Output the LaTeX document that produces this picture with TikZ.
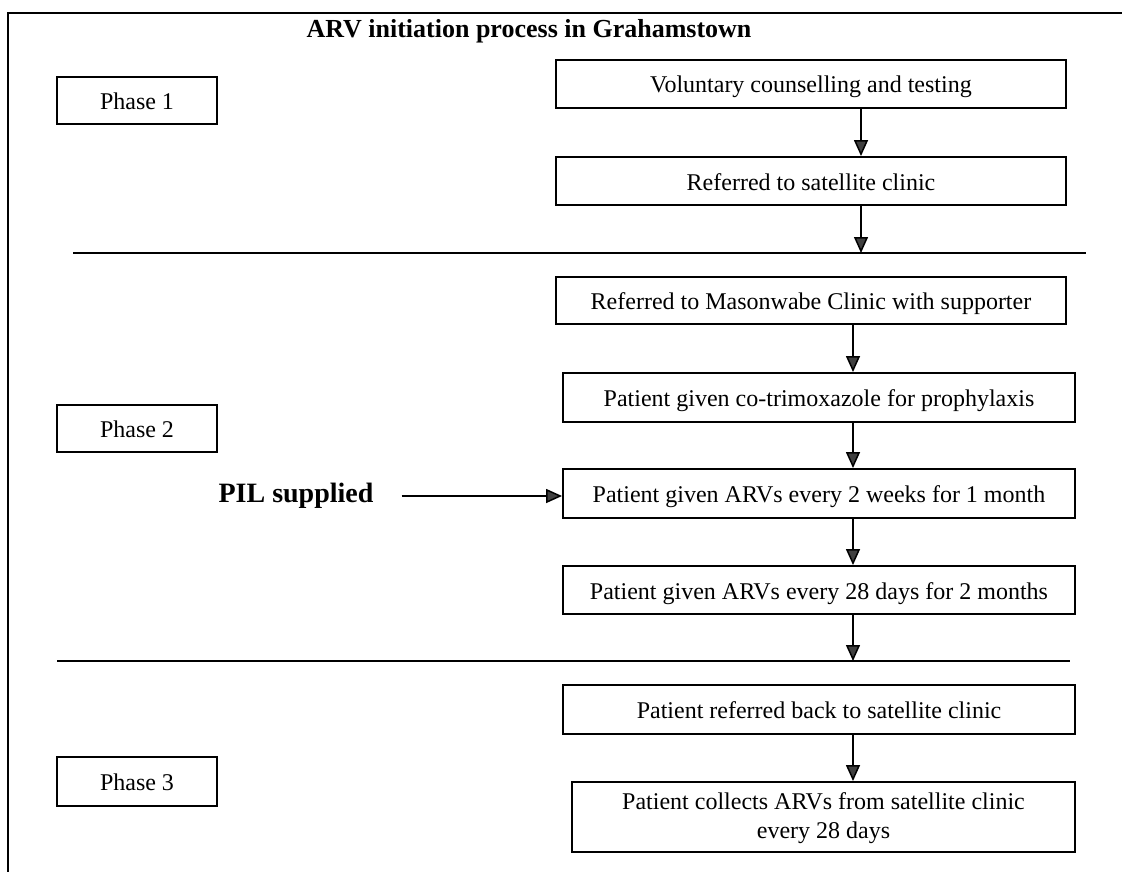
\documentclass[tikz,border=0pt]{standalone}
\usepackage{fontspec}
\setmainfont{Liberation Serif}
\usetikzlibrary{arrows.meta}
\begin{document}
\begin{tikzpicture}[x=1pt,y=-1pt,
  box/.style={draw=black,line width=1.9pt,minimum height=48pt,inner sep=0pt,align=center,font=\fontsize{24}{29}\selectfont},
  onebox/.style={box,text height=22pt,text depth=4pt},
  phasebox/.style={onebox,minimum width=160pt,minimum height=47pt},
  arr/.style={line width=1.5pt,-{Triangle[width=14pt,length=16pt,fill=black!75]}},
  sep/.style={line width=1.9pt},
  frame/.style={line width=2pt}]
\useasboundingbox (0,0) rectangle (1122,872);
\draw[frame] (1130,13) -- (8,13) -- (8,880);
% title
\node[font=\bfseries\fontsize{26}{30}\selectfont] (title) at (529,31) {ARV initiation process in Grahamstown};
% phase boxes
\node[phasebox] (p1) at (137,100.5) {Phase 1};
\node[phasebox] (p2) at (137,428.5) {Phase 2};
\node[phasebox,minimum height=49pt] (p3) at (137,781.5) {Phase 3};
% flow boxes
\node[onebox,minimum width=510pt] (b1) at (811,84) {Voluntary counselling and testing};
\node[onebox,minimum width=510pt] (b2) at (811,181) {Referred to satellite clinic};
\node[onebox,minimum width=510pt,minimum height=47pt] (b3) at (811,300.5) {Referred to Masonwabe Clinic with supporter};
\node[onebox,minimum width=512pt,minimum height=49pt] (b4) at (819,397.5) {Patient given co-trimoxazole for prophylaxis};
\node[onebox,minimum width=512pt,minimum height=49pt] (b5) at (819,493.5) {Patient given ARVs every 2 weeks for 1 month};
\node[onebox,minimum width=512pt] (b6) at (819,590) {Patient given ARVs every 28 days for 2 months};
\node[onebox,minimum width=512pt,minimum height=49pt] (b7) at (819,709.5) {Patient referred back to satellite clinic};
\node[box,minimum width=503pt,minimum height=70pt] (b8) at (823.5,817) {\rule{0pt}{20pt}Patient collects ARVs from satellite clinic\\every 28 days};
% PIL
\node[font=\bfseries\fontsize{28}{32}\selectfont,inner sep=0pt] (pil) at (296,496) {PIL supplied};
% separators
\coordinate (s1l) at (73,253);
\coordinate (s1r) at (1086,253);
\coordinate (s2l) at (57,661);
\coordinate (s2r) at (1070,661);
\draw[sep] (s1l) -- (s1r);
\draw[sep] (s2l) -- (s2r);
% arrow columns
\coordinate (ax1) at (861,0);
\coordinate (ax2) at (853,0);
\draw[arr] (b1.south -| ax1) -- (b2.north -| ax1);
\draw[arr] (b2.south -| ax1) -- (s1l -| ax1);
\draw[arr] (b3.south -| ax2) -- (b4.north -| ax2);
\draw[arr] (b4.south -| ax2) -- (b5.north -| ax2);
\draw[arr] (b5.south -| ax2) -- (b6.north -| ax2);
\draw[arr] (b6.south -| ax2) -- (s2l -| ax2);
\draw[arr] (b7.south -| ax2) -- (b8.north -| ax2);
\draw[arr,shorten <=28pt] (pil.east) -- (pil.east -| b5.west);
\end{tikzpicture}
\end{document}
